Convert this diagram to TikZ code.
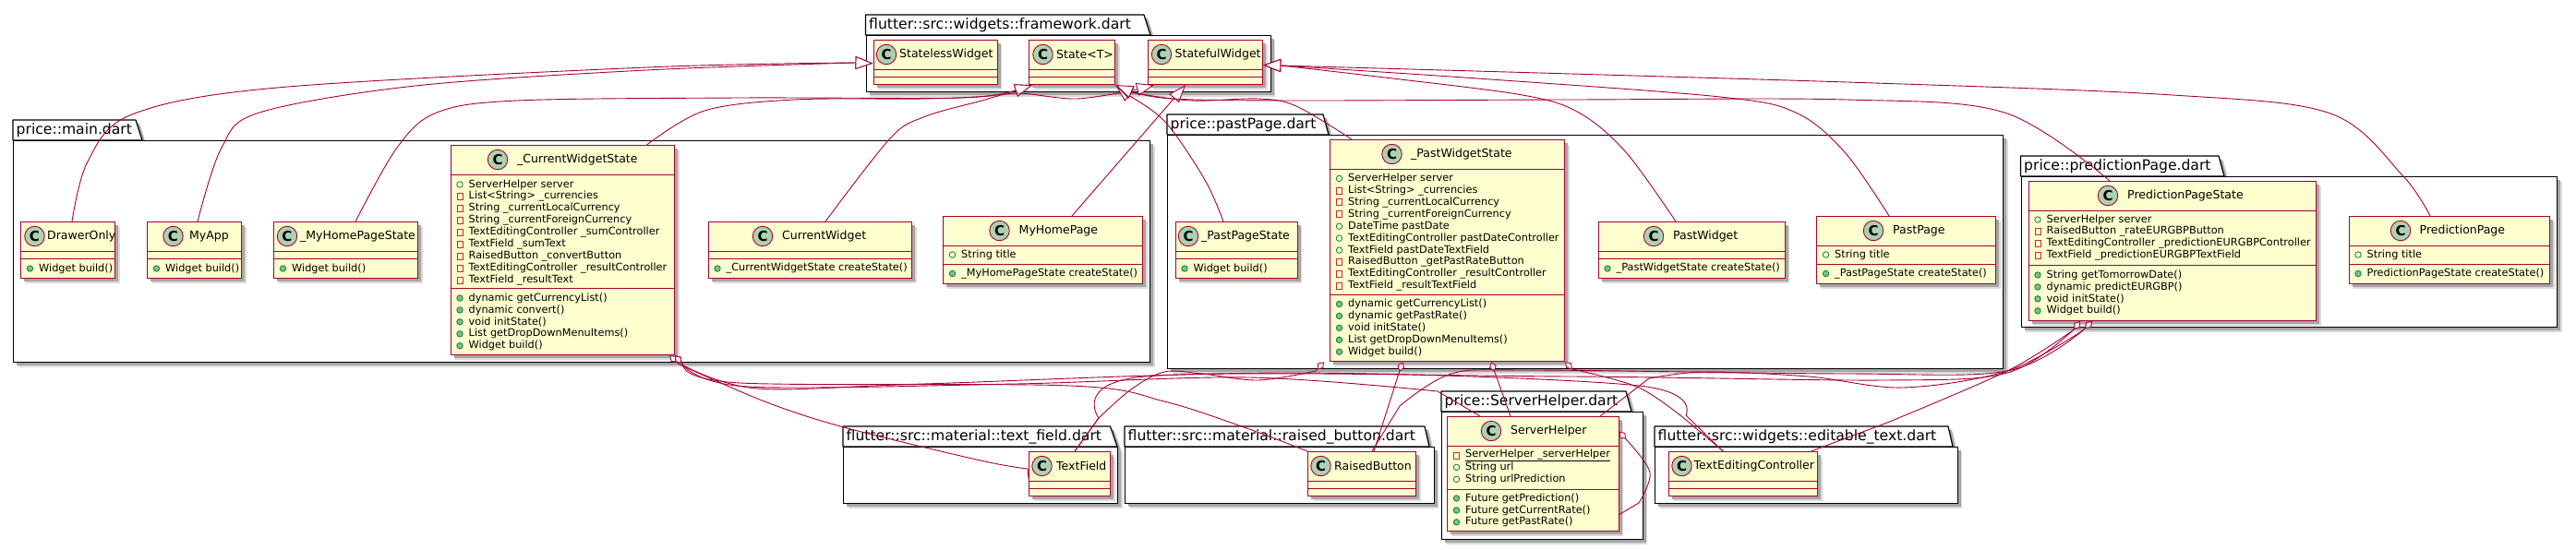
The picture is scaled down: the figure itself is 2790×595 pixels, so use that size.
\documentclass[tikz,border=0pt]{standalone}
\usepackage{fontspec}
\usetikzlibrary{arrows.meta,shadows,calc}
\setmainfont{DejaVu Sans}
\definecolor{umlred}{HTML}{A80036}
\definecolor{umlfill}{HTML}{FEFECE}
\definecolor{umlcirc}{HTML}{ADD1B2}
\definecolor{pubstroke}{HTML}{038048}
\definecolor{pubfill}{HTML}{84BE84}
\definecolor{privstroke}{HTML}{C82930}
\tikzset{
  x=1pt,y=-1pt,
  boxshadow/.style={drop shadow={shadow xshift=5pt,shadow yshift=-5pt,fill=black!14,opacity=1},drop shadow={shadow xshift=3.5pt,shadow yshift=-3.5pt,fill=black!35,opacity=1}},
  classbox/.style={draw=umlred,fill=umlfill,line width=1.2pt,inner sep=0,boxshadow},
  pkgbox/.style={draw=black,fill=white,line width=1.2pt,inner sep=0,boxshadow},
  pkgtab/.style={draw=black,fill=white,line width=1.2pt,line join=round,boxshadow},
  pkgtext/.style={font=\fontsize{15.6}{18}\selectfont,anchor=west,inner sep=0},
  sepline/.style={draw=umlred,line width=1pt},
  circ/.style={circle,draw=umlred,fill=umlcirc,line width=.9pt,minimum size=21.5pt,inner sep=0,font=\bfseries\fontsize{15}{15}\selectfont},
  titletext/.style={font=\fontsize{12.5}{14}\selectfont,anchor=west,inner sep=0},
  memtext/.style={font=\fontsize{11.3}{13}\selectfont,anchor=west,inner sep=0},
  pf/.style={circle,draw=pubstroke,line width=.8pt,minimum size=6.5pt,inner sep=0},
  pm/.style={circle,draw=pubstroke,fill=pubfill,line width=.8pt,minimum size=6.5pt,inner sep=0},
  mf/.style={rectangle,draw=privstroke,line width=.8pt,minimum width=6pt,minimum height=7pt,inner sep=0},
  edge/.style={draw=umlred,line width=.9pt},
  ext/.style={edge,-{Triangle[open,fill=white,length=19pt,width=14pt,line width=.9pt]}},
  agg/.style={edge,{Diamond[open,fill=white,length=11pt,width=8pt,line width=.9pt]}-},
  sp/.style={smooth,tension=.55},
}
\newcount\uid
\newcommand{\pkg}[9]{%
  \path[pkgtab] (#2,#4) -- (#2,#3) -- (#7,#3) -- (#8,#4) -- cycle;
  \node[pkgbox,anchor=north west,minimum width={#5-#2},minimum height={#6-#4}] (#1) at (#2,#4) {};
  \node[pkgtext] (#1-title) at ({#2+3.5},{(#3+#4)/2}) {#9};
}
\newcommand{\clstitle}{}
\newcommand{\ctitle}[1]{\renewcommand{\clstitle}{#1}}
\newcommand{\cls}[9]{%
  \node[classbox,anchor=north west,minimum width={#4-#2},minimum height={#5-#3}] (#1) at (#2,#3) {};
  \draw[sepline] (#2,#6) -- (#4,#6);
  \draw[sepline] (#2,#7) -- (#4,#7);
  \node[circ] (#1-c) at (#8,{(#3+#6)/2}) {C};
  \node[titletext] (#1-t) at (#9,{(#3+#6)/2}) {\clstitle};
}
\newcommand{\members}[3]{%
  \foreach \k/\t [count=\i from 0] in {#3}{
    \global\advance\uid by 1
    \node[\k] (i\the\uid) at ({#1+10.5},{#2+12.93*\i}) {};
    \node[memtext] (m\the\uid) at ({#1+20},{#2+12.93*\i}) {\t};
  }
}
\begin{document}
\begin{tikzpicture}
\useasboundingbox (0,0) rectangle (2790,595);
\pkg{pfw}{937.5}{16}{38}{1375.5}{99}{1239}{1246}{flutter::src::widgets::framework.dart}
\pkg{pmain}{14}{130}{152}{1245}{392}{147}{154}{price::main.dart}
\pkg{ppast}{1264}{124}{146}{2169}{399}{1433}{1439}{price::pastPage.dart}
\pkg{ppred}{2188.5}{169}{191}{2769}{354}{2403}{2409}{price::predictionPage.dart}
\pkg{ptf}{913}{462}{484}{1210}{545}{1202.5}{1210}{flutter::src::material::text\_field.dart}
\pkg{prb}{1218}{462}{484}{1552.5}{545}{1543}{1548}{flutter::src::material::raised\_button.dart}
\pkg{psh}{1561}{424}{446}{1778.5}{584}{1761}{1767}{price::ServerHelper.dart}
\pkg{pet}{1792}{462}{484}{2119.5}{545}{2110}{2115}{flutter::src::widgets::editable\_text.dart}
\ctitle{StatelessWidget}\cls{stateless}{945.5}{43}{1079.5}{91}{75}{83}{960}{974}
\ctitle{State<T>}\cls{state}{1114}{43}{1207}{91}{75}{83}{1129.5}{1144}
\ctitle{StatefulWidget}\cls{stateful}{1243}{43}{1367}{91}{75}{83}{1258}{1272.5}
\ctitle{DrawerOnly}\cls{drawer}{22}{240}{124}{301}{272}{280}{37.5}{51}
\members{22}{291}{pm/Widget build()}
\ctitle{MyApp}\cls{myapp}{159}{240}{261}{301}{272}{280}{187.5}{205}
\members{159}{291}{pm/Widget build()}
\ctitle{\_MyHomePageState}\cls{homestate}{296}{240}{452}{301}{272}{280}{311}{325}
\members{296}{291}{pm/Widget build()}
\ctitle{\_CurrentWidgetState}\cls{curstate}{487.5}{157}{730}{384}{189}{312}{539}{560}
\members{487.5}{200}{pf/ServerHelper server,mf/List<String> \_currencies,mf/String \_currentLocalCurrency,mf/String \_currentForeignCurrency,mf/TextEditingController \_sumController,mf/TextField \_sumText,mf/RaisedButton \_convertButton,mf/TextEditingController \_resultController,mf/TextField \_resultText}
\members{487.5}{323}{pm/dynamic getCurrencyList(),pm/dynamic convert(),pm/void initState(),pm/List getDropDownMenuItems(),pm/Widget build()}
\ctitle{CurrentWidget}\cls{curwidget}{766.5}{240}{987}{301}{272}{280}{826}{847}
\members{766.5}{291}{pm/\_CurrentWidgetState createState()}
\ctitle{MyHomePage}\cls{homepage}{1021}{234}{1237}{307}{266}{286}{1082.5}{1103.5}
\members{1021}{276}{pf/String title}
\members{1021}{296.5}{pm/\_MyHomePageState createState()}
\ctitle{\_PastPageState}\cls{paststate}{1272.5}{240}{1404.5}{301}{272}{280}{1287}{1301}
\members{1272.5}{291}{pm/Widget build()}
\ctitle{\_PastWidgetState}\cls{pwstate}{1440}{151}{1694}{391}{183}{319}{1507.5}{1528}
\members{1440}{193.5}{pf/ServerHelper server,mf/List<String> \_currencies,mf/String \_currentLocalCurrency,mf/String \_currentForeignCurrency,pf/DateTime pastDate,pf/TextEditingController pastDateController,pf/TextField pastDateTextField,mf/RaisedButton \_getPastRateButton,mf/TextEditingController \_resultController,mf/TextField \_resultTextField}
\members{1440}{329.5}{pm/dynamic getCurrencyList(),pm/dynamic getPastRate(),pm/void initState(),pm/List getDropDownMenuItems(),pm/Widget build()}
\ctitle{PastWidget}\cls{pastwidget}{1730.5}{240}{1932.5}{301}{272}{280}{1791}{1812}
\members{1730.5}{291}{pm/\_PastWidgetState createState()}
\ctitle{PastPage}\cls{pastpage}{1967}{234}{2161}{307}{266}{286}{2029}{2050}
\members{1967}{276}{pf/String title}
\members{1967}{296.5}{pm/\_PastPageState createState()}
\ctitle{PredictionPageState}\cls{predstate}{2196.5}{196}{2508}{347}{228}{287}{2283}{2304}
\members{2196.5}{238}{pf/ServerHelper server,mf/RaisedButton \_rateEURGBPButton,mf/TextEditingController \_predictionEURGBPController,mf/TextField \_predictionEURGBPTextField}
\members{2196.5}{298}{pm/String getTomorrowDate(),pm/dynamic predictEURGBP(),pm/void initState(),pm/Widget build()}
\ctitle{PredictionPage}\cls{predpage}{2543.5}{234}{2761}{307}{266}{286}{2600}{2620.5}
\members{2543.5}{276}{pf/String title}
\members{2543.5}{296.5}{pm/PredictionPageState createState()}
\ctitle{TextField}\cls{textfield}{1114}{489}{1202}{537}{521}{529}{1128.5}{1144}
\ctitle{RaisedButton}\cls{raised}{1416}{489}{1533}{537}{521}{529}{1430.5}{1445}
\ctitle{ServerHelper}\cls{helper}{1567}{451}{1752.5}{575}{483}{530}{1615}{1636}
\members{1567}{493.5}{mf/\underline{ServerHelper \_serverHelper},pf/String url,pf/String urlPrediction}
\members{1567}{540}{pm/Future getPrediction(),pm/Future getCurrentRate(),pm/Future getPastRate()}
\ctitle{TextEditingController}\cls{tec}{1806.5}{489}{1968}{537}{521}{529}{1821.5}{1834.5}
% inheritance
\draw[ext] plot[sp] coordinates {([xshift=56pt]drawer.north west) (95,175) (143,124) (300,95) (700,73) (926,68)} -- ([yshift=-1pt]stateless.west);
\draw[ext] plot[sp] coordinates {([xshift=55pt]myapp.north west) (240,160) (281,122) (450,93) (700,76) (926,68)} -- ([yshift=-1pt]stateless.west);
\draw[ext] plot[sp] coordinates {([xshift=89pt]homestate.north west) (430,160) (473,122) (560,109) (800,106) (1040,106) (1100,98)} -- ([xshift=4pt]state.south west);
\draw[ext] plot[sp] coordinates {([xshift=213pt]curstate.north west) (763,120) (860,108) (1000,107) (1070,104) (1100,98)} -- ([xshift=4pt]state.south west);
\draw[ext] plot[sp] coordinates {([xshift=127.5pt]curwidget.north west) (964,150) (1000,127) (1060,110) (1100,101) (1166,107) (1231,97)} -- ([xshift=7pt]stateful.south west);
\draw[ext] ([xshift=140pt]homepage.north west) -- ([xshift=41pt]stateful.south west);
\draw[ext] plot[sp] coordinates {([xshift=52.5pt]paststate.north west) (1305,195) (1262,132) (1220,102)} -- (state.south east);
\draw[ext] plot[sp] coordinates {([xshift=24pt]pwstate.north west) (1404,115) (1363,107) (1290,109) (1224,100)} -- (state.south east);
\draw[ext] plot[sp] coordinates {([xshift=88.5pt]predstate.north west) (2171,122) (2000,108) (1700,108) (1400,109) (1270,107) (1224,99)} -- (state.south east);
\draw[ext] plot[sp] coordinates {([xshift=84.5pt]pastwidget.north west) (1761,165) (1710,122) (1649,103) (1500,84) (1387,71)} -- ([yshift=-3pt]stateful.east);
\draw[ext] plot[sp] coordinates {([xshift=79pt]pastpage.north west) (1998,165) (1945,122) (1863,105) (1600,85) (1387,71)} -- ([yshift=-3pt]stateful.east);
\draw[ext] plot[sp] coordinates {([xshift=88.5pt]predpage.north west) (2602,190) (2524,123) (2353,103) (2000,89) (1387,71)} -- ([yshift=-3pt]stateful.east);
% aggregation
\draw[agg] ([xshift=-6pt]curstate.south east) -- plot[sp] coordinates {(736,395) (828,435) (914,463) (1062,499) (1113,508)} -- ([yshift=-5pt]textfield.west);
\draw[agg] (curstate.south east) -- plot[sp] coordinates {(740,396) (802,415) (1159,418) (1261,435) (1353,465) (1416,489)} -- (raised.north west);
\draw[agg] (curstate.south east) -- plot[sp] coordinates {(740,396) (810,419) (1100,416) (1353,409) (1557,424)} -- ([xshift=36pt]helper.north west);
\draw[agg] (curstate.south east) -- plot[sp] coordinates {(740,396) (820,421) (1000,416) (1400,404) (1775,418) (1826,450)} -- ([xshift=59.5pt]tec.north west);
\draw[agg] ([xshift=-6pt]pwstate.south west) -- plot[sp] coordinates {(1425,402) (1363,412) (1302,405) (1261,403) (1225,422) (1190,453)} -- ([xshift=50pt]textfield.north west);
\draw[agg] ([xshift=79pt]pwstate.south west) -- ([xshift=72pt]raised.north west);
\draw[agg] ([xshift=175pt]pwstate.south west) -- ([xshift=69pt]helper.north west);
\draw[agg] (pwstate.south east) -- plot[sp] coordinates {(1703,400) (1775,420) (1826,455)} -- ([xshift=60pt]tec.north west);
\draw[agg] ([xshift=69.5pt]predstate.south west) -- plot[sp] coordinates {(2256,358) (2174,402) (2061,420) (1959,408) (1847,403) (1786,410)} -- ([xshift=166pt]helper.north west);
\draw[agg] ([xshift=69.5pt]predstate.south west) -- plot[sp] coordinates {(2256,358) (2174,402) (2000,405) (1659,401) (1572,405) (1516,440)} -- ([xshift=70pt]raised.north west);
\draw[agg] ([xshift=56.5pt]predstate.south west) -- plot[sp] coordinates {(2245,358) (2174,404) (2040,412) (1700,408) (1240,408) (1190,453)} -- ([xshift=50pt]textfield.north west);
\draw[agg] ([xshift=56.5pt]predstate.south west) -- plot[sp] coordinates {(2245,358) (2174,402) (2044,458)} -- ([xshift=155pt]tec.north west);
\draw[agg] ([yshift=46pt]helper.east) -- plot[sp] coordinates {(1762,477) (1787,512) (1775,545)} -- ([yshift=-44pt]helper.east);
\end{tikzpicture}
\end{document}
